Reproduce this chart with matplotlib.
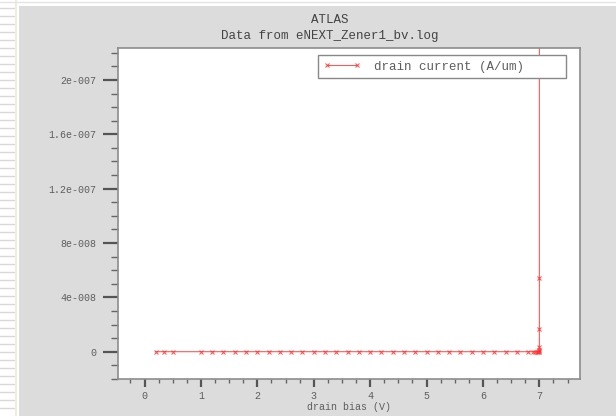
import matplotlib
matplotlib.use("Agg")
import matplotlib.pyplot as plt
from matplotlib.ticker import MultipleLocator, FixedLocator
from matplotlib.patches import Rectangle
from matplotlib.lines import Line2D

# ---- data ----
drain_bias = [0.2, 0.35, 0.5,
              1.0, 1.2, 1.4, 1.6, 1.8, 2.0, 2.2, 2.4, 2.6, 2.8,
              3.0, 3.2, 3.4, 3.6, 3.8, 4.0, 4.2, 4.4, 4.6, 4.8,
              5.0, 5.2, 5.4, 5.6, 5.8, 6.0, 6.2, 6.4, 6.6, 6.8,
              6.88, 6.93, 6.96, 6.98, 6.99, 7.0, 7.0, 7.0, 7.0, 7.0, 7.0]
drain_current = [1e-15, 1e-15, 1e-15,
                 1e-15, 1e-15, 1e-15, 1e-15, 1e-15, 1e-15, 1e-15, 1e-15, 1e-15, 1e-15,
                 1e-15, 1e-15, 1e-15, 1e-15, 1e-15, 1e-15, 1e-15, 1e-15, 1e-15, 1e-15,
                 1e-15, 1e-15, 1e-15, 1e-15, 1e-15, 1e-15, 1e-15, 1e-15, 1e-15, 1e-15,
                 2e-14, 5e-14, 1e-13, 3e-13, 8e-13, 2e-10, 1.2e-9, 3.7e-9, 1.65e-8, 5.42e-8, 3.0e-7]
y_ticks = [0, 4e-8, 8e-8, 1.2e-7, 1.6e-7, 2e-7]
y_tick_labels = ["0", "4e-008", "8e-008", "1.2e-007", "1.6e-007", "2e-007"]
x_ticks = [0, 1, 2, 3, 4, 5, 6, 7]

W, H = 616, 416
fig = plt.figure(figsize=(W / 100, H / 100), dpi=100, facecolor="white")

# background panel and decorative left strip
fig.patches.append(Rectangle((19 / W, 0), (W - 19) / W, (H - 6) / H,
                             transform=fig.transFigure, facecolor="#dcdcdc",
                             edgecolor="none", zorder=-5))
for yy in range(8, H, 8):
    fig.add_artist(Line2D([0, 14 / W], [1 - yy / H, 1 - yy / H], transform=fig.transFigure,
                          color="#d8d8d8", lw=1.0, zorder=-5))
fig.add_artist(Line2D([15.5 / W, 15.5 / W], [0, 1], transform=fig.transFigure,
                      color="#eeeedd", lw=1.5, zorder=-5))
fig.add_artist(Line2D([0, 1], [1 - 2 / H, 1 - 2 / H], transform=fig.transFigure,
                      color="#e4e4e4", lw=1.0, zorder=-5))

ax = fig.add_axes([118 / W, 1 - 379 / H, (580 - 118) / W, (379 - 48) / H])
ax.set_zorder(2)
ax.set_facecolor("white")

mono = "Liberation Mono"
tc = "#5e5e5e"

ax.plot(drain_bias, drain_current, color="#ff3030", lw=0.8, marker="x",
        markersize=3.2, markeredgewidth=0.8, alpha=0.8, label="drain current (A/um)",
        clip_on=True)

ax.set_xlim(-0.47, 7.72)
ax.set_ylim(-2.01e-8, 2.235e-7)

ax.xaxis.set_major_locator(FixedLocator(x_ticks))
ax.xaxis.set_minor_locator(MultipleLocator(0.25))
ax.yaxis.set_major_locator(FixedLocator(y_ticks))
ax.yaxis.set_minor_locator(MultipleLocator(1e-8))
ax.set_yticklabels(y_tick_labels)
ax.set_xticklabels([str(v) for v in x_ticks])

ax.tick_params(axis="y", which="major", direction="out", length=11, width=1.6, color="#555555",
               labelsize=7.2, labelcolor=tc, pad=4.8)
ax.tick_params(axis="y", which="minor", direction="out", length=5, width=1.0, color="#666666")
ax.tick_params(axis="x", which="major", direction="out", length=5.5, width=1.6, color="#555555",
               labelsize=7.2, labelcolor=tc, pad=3)
ax.tick_params(axis="x", which="minor", direction="out", length=3, width=1.0, color="#666666")
for lab in ax.get_xticklabels() + ax.get_yticklabels():
    lab.set_family(mono)

for s in ax.spines.values():
    s.set_color("#8c8c8c")
    s.set_linewidth(1.2)

ax.set_xlabel("drain bias (V)", family=mono, fontsize=7.2, color=tc, labelpad=0.5)

fig.text(330 / W, 1 - 20 / H, "ATLAS", ha="center", va="center", family=mono,
         fontsize=9, color="#444444")
fig.text(330 / W, 1 - 36 / H, "Data from eNEXT_Zener1_bv.log", ha="center", va="center",
         family=mono, fontsize=9, color="#444444")

leg = ax.legend(loc="upper left", bbox_to_anchor=(318 / W, 1 - 79 / H, (566 - 318) / W, 24 / H),
                bbox_transform=fig.transFigure, mode="expand",
                prop={"family": mono, "size": 9}, numpoints=2,
                frameon=True, fancybox=False, borderpad=0.45, handlelength=3.0,
                handletextpad=1.0, borderaxespad=0)
leg.get_frame().set_edgecolor("#888888")
leg.get_frame().set_linewidth(1.0)
leg.get_frame().set_alpha(1.0)
for t in leg.get_texts():
    t.set_color(tc)

fig.savefig("out.png", dpi=100, facecolor=fig.get_facecolor())
